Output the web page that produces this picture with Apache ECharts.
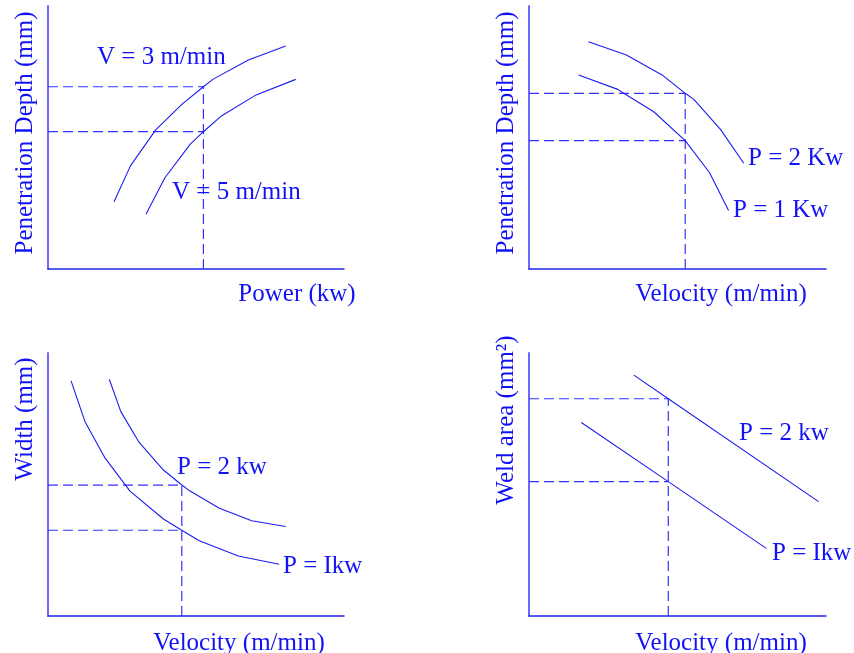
<!DOCTYPE html>
<html>
<head>
<meta charset="utf-8">
<script src="https://cdn.jsdelivr.net/npm/echarts@6/dist/echarts.min.js"></script>
<style>
html,body{margin:0;padding:0;background:#fff;}
#chart{width:854px;height:653px;}
</style>
</head>
<body>
<div id="chart"></div>
<script>
// Panel 1: Penetration depth vs power (x, y in relative units 0-100)
var p1V3 = [[22.3,25.6],[27.9,39.3],[36.4,52.9],[45.2,62.6],[52.5,69.3],[55.8,72.2],[67.7,79.5],[80.3,84.8]];
var p1V5 = [[33.1,20.8],[39.5,34.7],[48.0,47.4],[52.5,52.2],[58.7,58.3],[70.3,66.2],[83.7,72.1]];
var p1RefX = 52.5, p1RefY = [69.3, 52.2];

// Panel 2: Penetration depth vs velocity
var p2P2 = [[20.0,86.4],[32.8,81.4],[44.8,73.8],[52.6,66.8],[55.5,64.5],[64.6,52.9],[72.3,40.2]];
var p2P1 = [[16.7,73.8],[29.9,68.3],[31.9,66.8],[42.0,59.8],[52.6,48.8],[60.8,36.6],[67.2,22.2]];
var p2RefX = 52.6, p2RefY = [66.8, 48.8];

// Panel 3: Width vs velocity
var p3P2 = [[20.7,90.0],[24.6,77.7],[30.8,66.0],[39.0,55.5],[45.2,49.8],[48.0,47.5],[57.9,41.0],[68.8,36.2],[80.3,34.0]];
var p3P1 = [[7.8,89.4],[12.5,73.9],[19.3,60.0],[27.7,47.5],[39.0,36.9],[45.2,32.6],[51.1,28.6],[64.3,22.8],[78.1,19.7]];
var p3RefX = 45.2, p3RefY = [49.8, 32.6];

// Panel 4: Weld area vs velocity
var p4P2 = [[35.3,91.6],[46.9,82.6],[97.5,43.5]];
var p4P1 = [[17.6,73.6],[46.9,51.1],[79.9,25.7]];
var p4RefX = 46.9, p4RefY = [82.6, 51.1];

var xLabels = ['Power (kw)', 'Velocity (m/min)', 'Velocity (m/min)', 'Velocity (m/min)'];
var yLabels = ['Penetration Depth (mm)', 'Penetration Depth (mm)', 'Width (mm)', 'Weld area (mm²)'];
var curveLabels = [['V = 3 m/min','V = 5 m/min'],['P = 2 Kw','P = 1 Kw'],['P = 2 kw','P = Ikw'],['P = 2 kw','P = Ikw']];

var curveColor = '#1c1cf0';
var dashColor = '#3232ff';
var textColor = '#1212f5';
var font = '"Liberation Serif", "Times New Roman", serif';

var grids = [
  {left:48, top:6, width:296, height:263},
  {left:529, top:6, width:297, height:263},
  {left:48, top:353, width:296, height:263},
  {left:529, top:353, width:297, height:263}
];

var xAxes = [], yAxes = [];
for (var i = 0; i < 4; i++) {
  xAxes.push({type:'value', gridIndex:i, min:0, max:100,
    axisLine:{show:true, onZero:false, lineStyle:{color:'#2424e6', width:1.5}},
    axisTick:{show:false}, axisLabel:{show:false}, splitLine:{show:false}});
  yAxes.push({type:'value', gridIndex:i, min:0, max:100,
    axisLine:{show:true, onZero:false, lineStyle:{color:'#6a6aff', width:2}},
    axisTick:{show:false}, axisLabel:{show:false}, splitLine:{show:false}});
}

function curve(data, idx) {
  return {type:'line', xAxisIndex:idx, yAxisIndex:idx, data:data, symbol:'none',
    smooth:false, lineStyle:{color:curveColor, width:1.1}, z:3};
}
function refLines(x, ys, idx) {
  var out = [];
  ys.forEach(function(y){
    out.push({type:'line', xAxisIndex:idx, yAxisIndex:idx, data:[[0,y],[x,y]], symbol:'none',
      lineStyle:{color:dashColor, width:1.2, type:[10,5]}, z:2});
  });
  out.push({type:'line', xAxisIndex:idx, yAxisIndex:idx, data:[[x,0],[x,Math.max.apply(null,ys)]], symbol:'none',
    lineStyle:{color:dashColor, width:1.2, type:[10,5]}, z:2});
  return out;
}

var series = [];
series.push(curve(p1V3,0), curve(p1V5,0));
series = series.concat(refLines(p1RefX, p1RefY, 0));
series.push(curve(p2P2,1), curve(p2P1,1));
series = series.concat(refLines(p2RefX, p2RefY, 1));
series.push(curve(p3P2,2), curve(p3P1,2));
series = series.concat(refLines(p3RefX, p3RefY, 2));
series.push(curve(p4P2,3), curve(p4P1,3));
series = series.concat(refLines(p4RefX, p4RefY, 3));

function txt(s, x, y, align, rot) {
  return {type:'text', x:x, y:y, rotation:rot||0, z:10,
    style:{text:s, fill:textColor, font:'25px ' + font, textAlign:align||'left', textVerticalAlign:'middle'}};
}

var graphics = [
  txt(curveLabels[0][0], 97, 57),
  txt(curveLabels[0][1], 172, 192),
  txt(xLabels[0], 297, 294, 'center'),
  txt(yLabels[0], 25, 133, 'center', Math.PI/2),

  txt(curveLabels[1][0], 748, 158),
  txt(curveLabels[1][1], 733, 210),
  txt(xLabels[1], 721, 294, 'center'),
  txt(yLabels[1], 506, 133, 'center', Math.PI/2),

  txt(curveLabels[2][0], 177, 467),
  txt(curveLabels[2][1], 283, 566),
  txt(xLabels[2], 239, 643, 'center'),
  txt(yLabels[2], 25, 419, 'center', Math.PI/2),

  txt(curveLabels[3][0], 739, 433),
  txt(curveLabels[3][1], 772, 553),
  txt(xLabels[3], 721, 643, 'center'),
  txt(yLabels[3], 506, 420, 'center', Math.PI/2)
];

var chart = echarts.init(document.getElementById('chart'), null, {renderer:'canvas'});
chart.setOption({
  animation:false,
  backgroundColor:'#ffffff',
  grid:grids,
  xAxis:xAxes,
  yAxis:yAxes,
  series:series,
  graphic:graphics
});
</script>
</body>
</html>
